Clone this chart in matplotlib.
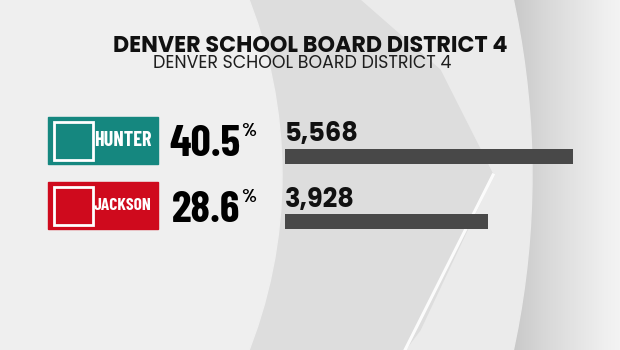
import numpy as np
import matplotlib
matplotlib.use("Agg")
import matplotlib.pyplot as plt
from matplotlib.patches import Rectangle, Circle, Polygon

title = "DENVER SCHOOL BOARD DISTRICT 4"
subtitle = "DENVER SCHOOL BOARD DISTRICT 4"
candidates = ["HUNTER", "JACKSON"]
percents = [40.5, 28.6]
votes = [5568, 3928]
colors = ["#15877f", "#cf0a1d"]

W, H = 620, 350
fig = plt.figure(figsize=(W / 100, H / 100), dpi=100)
ax = fig.add_axes([0, 0, 1, 1])
ax.set_xlim(0, W)
ax.set_ylim(H, 0)
ax.axis("off")

# background: grey gradient on the right, layered discs
grad = np.repeat(np.linspace(0, 1, 200)[None, :], 2, axis=0)
ax.imshow(grad, extent=[500, W, H, 0], cmap="Greys_r", vmin=-2.6, vmax=1.4,
          aspect="auto", zorder=0)
ax.set_xlim(0, W)
ax.add_patch(Circle((-300, 175), 832, color="#ebebeb", zorder=1))
ax.add_patch(Polygon([[240, 0], [360, 0], [440, 70], [493, 175], [420, 330],
                      [405, 350], [240, 350]],
                     closed=True, color="#dddddd", zorder=1.5))
ax.plot([493, 405], [175, 350], color="white", lw=2.2, alpha=0.9, zorder=1.6)
ax.add_patch(Circle((-200, 175), 482, color="#efefef", zorder=2))

geo = ["Poppins", "DejaVu Sans"]
narrow = ["Barlow Condensed", "DejaVu Sans"]

# titles
ax.text(310, 46.5, title, ha="center", va="center", fontsize=16,
        fontweight="bold", color="#111111", family=geo, zorder=5)
ax.text(302, 64, subtitle, ha="center", va="center", fontsize=12.5,
        fontweight="normal", color="#1e1e1e", family=geo, zorder=5)

row_y = [140, 205]
name_size = [14.5, 12.5]
scale = (573 - 285) / max(votes)
for name, pct, v, c, y, fs in zip(candidates, percents, votes, colors, row_y,
                                  name_size):
    ax.add_patch(Rectangle((48, y - 23), 110, 47, color=c, zorder=5))
    ax.add_patch(Rectangle((54, y - 18), 39, 38, fill=False, ec="white",
                           lw=2, zorder=6))
    ax.text(123, y + 1, name, ha="center", va="center", color="white",
            fontsize=fs, family=narrow, fontweight="bold", zorder=6)
    ax.text(240, y + 5, f"{pct:.1f}", ha="right", va="center", color="black",
            fontsize=32, family=narrow, fontweight="bold", zorder=6)
    ax.text(241, y - 8, "%", ha="left", va="center", color="black",
            fontsize=14, family=narrow, fontweight="bold", zorder=6)
    ax.text(285, y - 5, f"{v:,}", ha="left", va="center", color="#111111",
            fontsize=18.5, family=geo, fontweight="bold", zorder=6)
    ax.barh(y + 16.5, v * scale, left=285, height=15, color="#484848",
            zorder=6)

fig.savefig("out.png", dpi=100)
